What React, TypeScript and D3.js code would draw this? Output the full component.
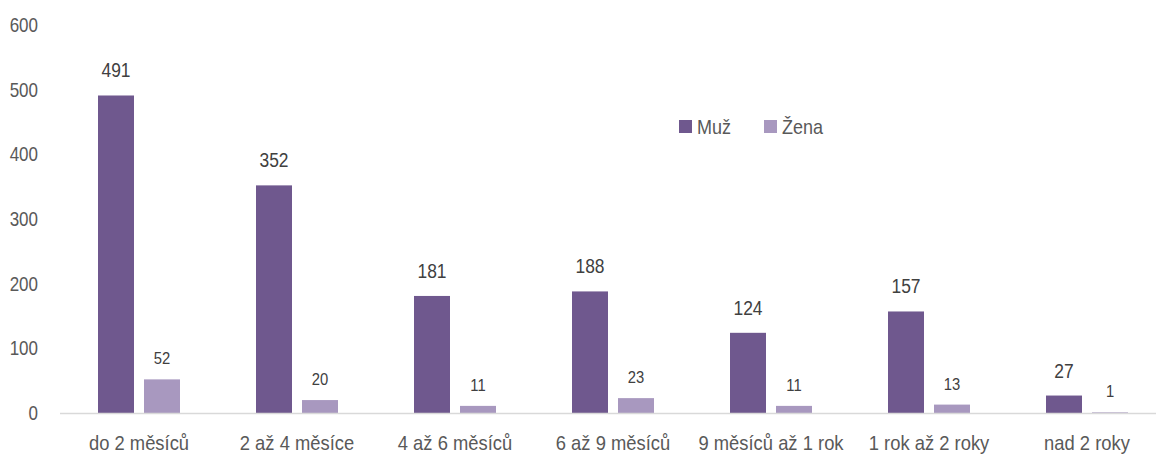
import React from "react";
import * as d3 from "d3";

const categories = ["do 2 měsíců", "2 až 4 měsíce", "4 až 6 měsíců", "6 až 9 měsíců", "9 měsíců až 1 rok", "1 rok až 2 roky", "nad 2 roky"];
const muz = [491, 352, 181, 188, 124, 157, 27];
const zena = [52, 20, 11, 23, 11, 13, 1];
const yTicks = [0, 100, 200, 300, 400, 500, 600];
const seriesNames = ["Muž", "Žena"];
const colors = ["#6F588E", "#A898BF"];

const W = 1156, H = 455;
const FONT = "'Liberation Sans', Arial, sans-serif";

function T({ x, y, s = 0.88, size = 20, anchor = "middle", fill = "#595959", children }: any) {
  return (
    <text transform={`translate(${x},${y}) scale(${s},1)`} textAnchor={anchor} fontSize={size} fill={fill}>{children}</text>
  );
}

export default function App() {
  const x = d3.scaleBand().domain(categories).range([60, 60 + 158 * 7]).paddingInner(0).paddingOuter(0);
  const y = d3.scaleLinear().domain([0, 600]).range([413, 25]);
  const barW = 36, gap = 10;
  const series = [muz, zena];
  return (
    <svg width={W} height={H} style={{ position: "absolute", left: 0, top: 0, fontFamily: FONT }}>
      <rect width={W} height={H} fill="#fff" />
      {yTicks.map(t => (
        <T key={t} x={38} y={y(t) + 7} anchor="end" s={0.85}>{t}</T>
      ))}
      {series.map((vals, si) => vals.map((v, i) => {
        const cx = (x(categories[i]) as number) + x.bandwidth() / 2;
        const bx = si === 0 ? cx - gap / 2 - barW : cx + gap / 2;
        return (
          <g key={si + "-" + i}>
            <rect x={bx} y={y(v)} width={barW} height={y(0) - y(v)} fill={colors[si]} />
            <T x={bx + barW / 2} y={y(v) - (si === 0 ? 18 : 15)} size={si === 0 ? 20 : 17} s={0.87} fill="#404040">{v}</T>
          </g>
        );
      }))}
      <line x1={60} x2={W} y1={y(0) + 0.5} y2={y(0) + 0.5} stroke="#D9D9D9" strokeWidth={1.5} />
      {categories.map(c => (
        <T key={c} x={(x(c) as number) + x.bandwidth() / 2} y={450} s={0.92}>{c}</T>
      ))}
      {seriesNames.map((n, i) => (
        <g key={n} transform={`translate(${679 + i * 85},120)`}>
          <rect width={13} height={13} fill={colors[i]} />
          <T x={18} y={14} anchor="start" s={0.9}>{n}</T>
        </g>
      ))}
    </svg>
  );
}
